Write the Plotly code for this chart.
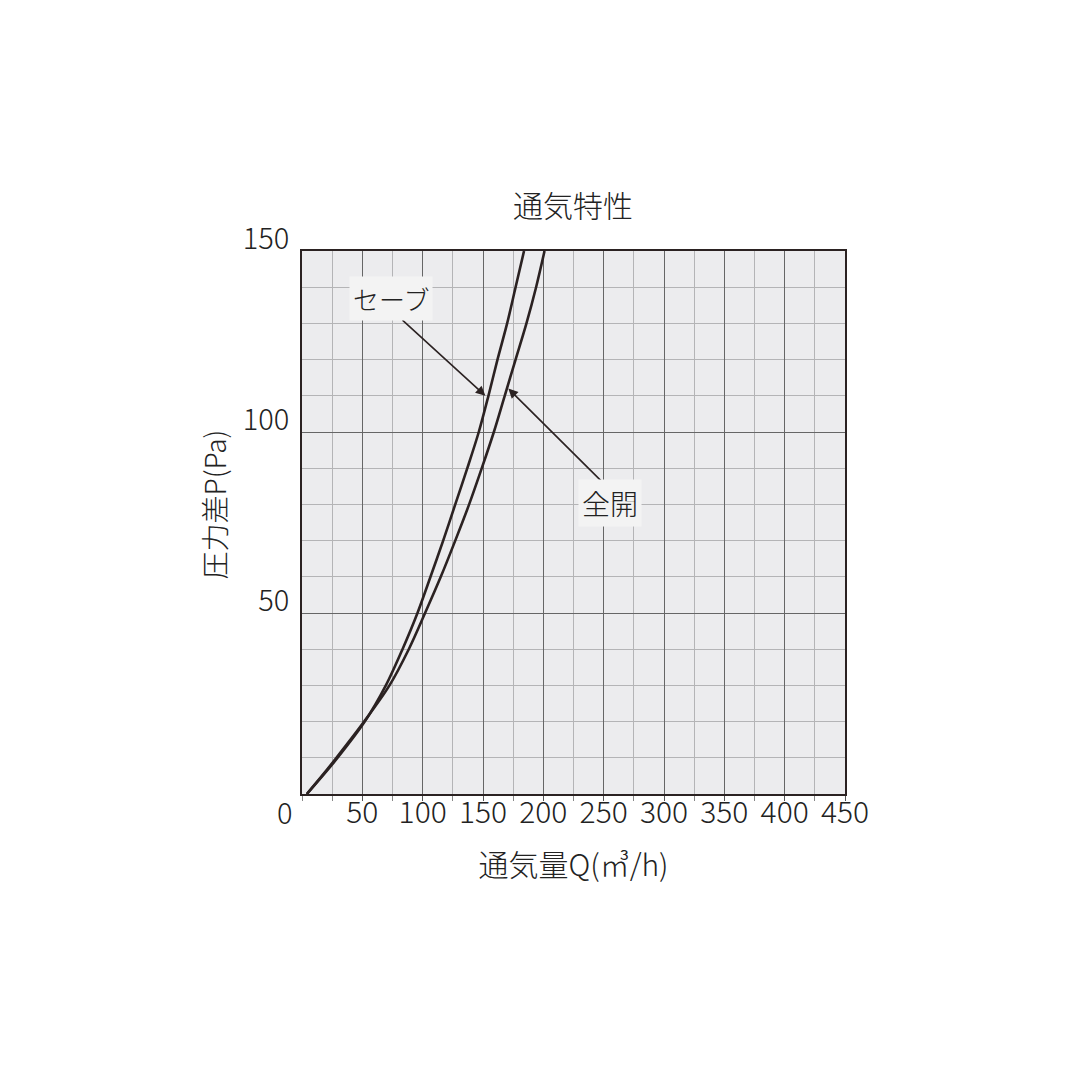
import plotly.graph_objects as go

# 通気特性: Q (m3/h) vs P (Pa)
save_q = [4, 17, 29.5, 52, 69.5, 83.3, 95.7, 106.5, 117, 127, 137, 146.5, 154.5, 162, 170, 177, 184]
save_p = [0, 5, 10, 20, 30, 40, 50, 60, 70, 80, 90, 100, 110, 120, 130, 140, 150]

full_q = [4, 16.5, 28.5, 51.5, 72.5, 88.5, 102, 115, 127, 138.5, 149, 159, 168, 177, 186, 194, 201]
full_p = [0, 5, 10, 20, 30, 40, 50, 60, 70, 80, 90, 100, 110, 120, 130, 140, 150]

x_ticks = [50, 100, 150, 200, 250, 300, 350, 400, 450]
y_ticks = [50, 100, 150]

font_family = "Noto Sans CJK JP"
ink = "#2b2222"

fig = go.Figure()
fig.add_trace(go.Scatter(x=save_q, y=save_p, mode="lines", name="セーブ",
                         line=dict(color=ink, width=2.6, shape="spline", smoothing=0.9)))
fig.add_trace(go.Scatter(x=full_q, y=full_p, mode="lines", name="全開",
                         line=dict(color=ink, width=2.6, shape="spline", smoothing=0.9)))

fig.update_layout(
    width=1080, height=1080,
    margin=dict(l=294, r=243, t=243, b=294),
    paper_bgcolor="white",
    plot_bgcolor="#ececee",
    showlegend=False,
    font=dict(family=font_family, size=29, color="#222", weight=300),
    title=dict(text="通気特性", x=565 / 1080, xanchor="center", xref="container",
               y=1 - 198 / 1080, yanchor="middle", yref="container",
               font=dict(size=30, color="#222")),
)

fig.update_xaxes(
    range=[0, 450], tickvals=x_ticks, ticks="outside", ticklen=5, tickcolor="#555",
    tickfont=dict(size=30), ticklabelstandoff=-14,
    showgrid=True, gridcolor="#666", gridwidth=1,
    minor=dict(tick0=0, dtick=25, showgrid=True, gridcolor="#b4b4b6", gridwidth=1,
               ticks="outside", ticklen=5, tickcolor="#888"),
    showline=True, linecolor=ink, linewidth=2, mirror=True,
    zeroline=False,
    title=dict(text="通気量Q(㎥/h)", standoff=24, font=dict(size=30)),
)
fig.update_yaxes(
    range=[0, 150], tickvals=y_ticks, ticks="",
    tickfont=dict(size=29), ticklabelshift=-12, ticklabelstandoff=5,
    showgrid=True, gridcolor="#666", gridwidth=1,
    minor=dict(tick0=0, dtick=10, showgrid=True, gridcolor="#b4b4b6", gridwidth=1),
    showline=True, linecolor=ink, linewidth=2, mirror=True,
    zeroline=False,
)

# y axis title, placed a little above the middle as in the original
fig.add_annotation(x=0, y=80, xref="paper", yref="y", text="圧力差P(Pa)", textangle=-90,
                   showarrow=False, xanchor="center", yanchor="middle", xshift=-88,
                   font=dict(size=28))

# origin label
fig.add_annotation(x=0, y=0, xref="x", yref="y", text="0", showarrow=False,
                   xshift=-17, yshift=-17, font=dict(size=29))

# curve labels with arrows
label_bg = "#f3f3f3"
fig.add_annotation(x=152, y=110, ax=82, ay=131.3, xref="x", yref="y", axref="x", ayref="y",
                   text="", showarrow=True, arrowhead=2, arrowsize=1.2, arrowwidth=1.6,
                   arrowcolor=ink)
fig.add_annotation(x=73.6, y=137, xref="x", yref="y", text="セーブ", showarrow=False,
                   bgcolor=label_bg, borderpad=3, font=dict(size=26))
fig.add_annotation(x=171, y=112, ax=250.6, ay=85.6, xref="x", yref="y", axref="x", ayref="y",
                   text="", showarrow=True, arrowhead=2, arrowsize=1.2, arrowwidth=1.6,
                   arrowcolor=ink)
fig.add_annotation(x=255.6, y=80.4, xref="x", yref="y", text="全開", showarrow=False,
                   bgcolor=label_bg, borderpad=3, font=dict(size=28))

fig.write_html("out.html")
